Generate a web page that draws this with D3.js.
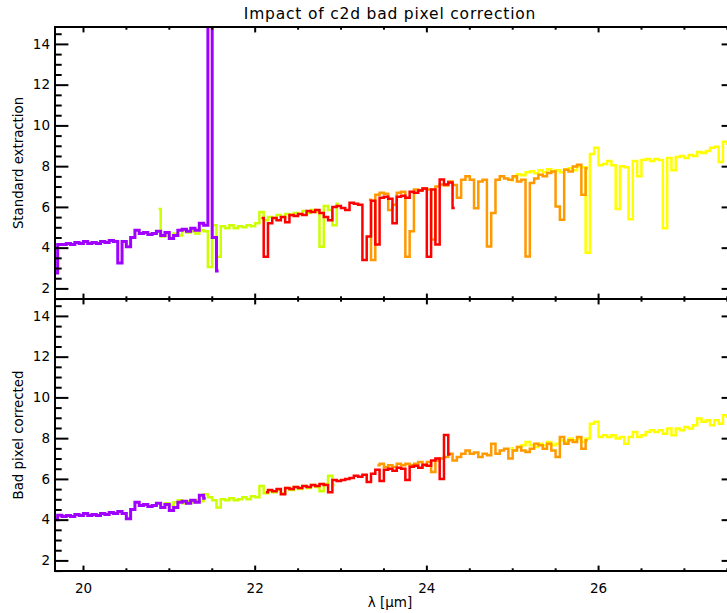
<!DOCTYPE html>
<html>
<head>
<meta charset="utf-8">
<script src="https://cdn.jsdelivr.net/npm/d3@7"></script>
<style>
  body { margin: 0; background: #fff; }
  svg { display: block; font-family: "DejaVu Sans", sans-serif; }
</style>
</head>
<body>
<svg id="chart" width="727" height="613"></svg>
<script>
// wavelength bin width of every order (micron)
var step = 0.05;

// first wavelength of each series, standard extraction (top) / corrected (bottom)
var purpleStart = [19.68, 19.68];
var greenStart  = [20.88, 20.93];
var redStart    = [22.08, 22.13];
var orangeStart = [23.33, 23.43];
var yellowStart = [24.98, 24.98];

// flux values, standard extraction
var purpleStd = [2.75, 4.15, 4.15, 4.2, 4.15, 4.25, 4.2, 4.3, 4.2, 4.25, 4.2, 4.3, 4.25, 4.35, 4.3, 3.25,
  4.3, 4.05, 4.5, 4.85, 4.7, 4.75, 4.65, 4.7, 4.8, 4.6, 4.75, 4.45, 4.6, 4.85, 4.9, 4.8, 4.95, 4.85,
  5.2, 5.1, 16, 4.5, 2.85];
var greenStd = [5.9, 4.55, 4.6, 4.5, 4.7, 4.6, 4.85, 4.75, 4.8, 4.7, 4.85, 4.8, 3.05, 5.1, 3.55, 5.05,
  4.95, 5.1, 4.95, 5.05, 5.0, 5.1, 5.05, 5.2, 5.75, 5.35, 5.5, 5.45, 5.6, 5.5, 5.65, 5.6, 5.7, 5.65,
  5.8, 5.7, 5.85, 5.75, 4.05, 6.05, 5.85, 5.1, 6.15];
var redStd = [5.45, 3.55, 5.2, 5.45, 5.35, 5.5, 5.25, 5.6, 5.55, 5.65, 5.6, 5.8, 5.75, 5.85, 5.7, 5.5,
  5.35, 6.0, 6.05, 5.95, 5.85, 6.2, 6.15, 6.1, 3.4, 4.55, 6.3, 4.15, 6.45, 6.5, 6.4, 5.2, 6.5, 6.55,
  6.45, 6.75, 6.7, 6.8, 6.9, 3.55, 6.85, 4.15, 7.35, 7.1, 7.2, 5.95];
var orangeStd = [6.35, 3.4, 6.6, 6.7, 6.65, 5.85, 6.1, 6.7, 6.75, 3.55, 4.8, 6.85, 6.8, 6.9, 6.85, 4.4,
  7.0, 7.1, 7.05, 7.25, 7.08, 6.45, 7.33, 7.5, 7.33, 5.94, 7.25, 7.33, 4.06, 5.7, 7.33, 7.5, 7.4, 7.33,
  7.5, 7.25, 7.33, 3.57, 7.17, 7.4, 7.58, 7.5, 7.66, 7.74, 6.02, 5.37, 7.82, 7.74, 7.98, 8.07, 6.6, 7.9];
var yellowStd = [7.3, 7.45, 7.6, 7.55, 7.7, 7.75, 7.65, 7.8, 7.7, 7.85, 7.75, 7.8, 7.7, 7.85, 7.9, 7.8,
  8.0, 7.95, 3.75, 8.6, 8.9, 8.05, 8.1, 8.25, 8.05, 5.9, 8.0, 7.95, 5.4, 8.25, 7.5, 8.3, 8.35, 8.25,
  8.35, 8.3, 4.95, 8.4, 7.8, 8.45, 8.5, 8.4, 8.55, 8.5, 8.7, 8.65, 8.75, 8.9, 8.95, 8.2, 9.2, 9.1, 9.15];

// flux values, bad pixel corrected
var purpleCor = [4.0, 4.22, 4.15, 4.2, 4.15, 4.25, 4.2, 4.3, 4.2, 4.25, 4.2, 4.3, 4.25, 4.35, 4.3, 4.4,
  4.3, 4.05, 4.5, 4.85, 4.7, 4.75, 4.65, 4.7, 4.8, 4.6, 4.75, 4.45, 4.6, 4.85, 4.9, 4.8, 4.95, 4.85,
  5.2, 5.05];
var greenCor = [4.65, 4.8, 4.7, 4.85, 4.95, 4.8, 4.9, 4.85, 4.95, 4.9, 5.25, 5.1, 4.95, 4.6, 5.0, 4.95,
  5.05, 4.95, 5.0, 5.1, 5.0, 5.15, 5.1, 5.65, 5.3, 5.4, 5.35, 5.45, 5.3, 5.55, 5.45, 5.6, 5.5, 5.65,
  5.55, 5.7, 5.6, 5.4, 5.75, 6.15, 5.7];
var redCor = [5.35, 5.45, 5.4, 5.5, 5.25, 5.55, 5.5, 5.6, 5.55, 5.65, 5.6, 5.7, 5.65, 5.75, 5.7, 5.35,
  5.95, 5.9, 5.95, 6.0, 6.05, 6.15, 6.1, 6.2, 5.85, 6.25, 6.45, 5.9, 6.45, 6.5, 6.4, 6.55, 6.5, 5.95,
  6.6, 6.65, 6.55, 6.7, 6.65, 6.9, 7.0, 6.0, 8.15, 7.2];
var orangeCor = [6.67, 6.75, 6.59, 6.67, 6.59, 6.75, 6.67, 6.75, 6.67, 6.75, 6.83, 6.67, 6.83, 6.34,
  6.9, 7.0, 7.08, 7.24, 6.9, 7.08, 7.24, 7.4, 7.24, 7.3, 7.08, 7.24, 7.16, 7.73, 7.24, 7.4, 7.48, 7.0,
  7.4, 7.57, 7.4, 7.32, 7.48, 7.73, 7.65, 7.48, 7.73, 7.4, 7.08, 8.06, 7.73, 7.9, 7.81, 8.06, 7.48, 7.9];
var yellowCor = [7.5, 7.4, 7.56, 7.65, 7.81, 7.65, 7.56, 7.73, 7.65, 7.81, 7.65, 7.73, 7.9, 7.81, 7.98,
  7.9, 7.98, 7.81, 7.98, 8.71, 8.8, 8.06, 8.14, 8.06, 8.14, 7.98, 8.06, 7.73, 8.06, 8.3, 8.06, 8.14,
  8.3, 8.39, 8.3, 8.39, 8.22, 8.47, 8.14, 8.47, 8.39, 8.55, 8.47, 8.63, 8.96, 8.8, 8.88, 8.63, 8.88,
  8.71, 9.12, 9.05];

var xTickLabels = [20, 22, 24, 26];
var yTickLabels = [2, 4, 6, 8, 10, 12, 14];
var titleText = "Impact of c2d bad pixel correction";
var panelLabels = ["Standard extraction", "Bad pixel corrected"];

// drawing order: later series lie on top
var colors = { yellow: "#ffff00", orange: "#ff9900", green: "#ccff00", red: "#ff0000", purple: "#a000ff" };
var panels = [
  [["yellow", yellowStart[0], yellowStd], ["orange", orangeStart[0], orangeStd],
   ["green", greenStart[0], greenStd], ["red", redStart[0], redStd], ["purple", purpleStart[0], purpleStd]],
  [["yellow", yellowStart[1], yellowCor], ["orange", orangeStart[1], orangeCor],
   ["green", greenStart[1], greenCor], ["red", redStart[1], redCor], ["purple", purpleStart[1], purpleCor]]
];

var svg = d3.select("#chart");
var left = 55, right = 735, panelH = 272, tops = [27, 299];

var x = d3.scaleLinear().domain([19.674, 27.595]).range([left, right]);
var xMinor = d3.range(19.5, 27.6, 0.5).filter(function(v) { return v >= 19.674 && xTickLabels.indexOf(v) < 0 && v % 2 !== 0; });
var xMajor = d3.range(20, 27.6, 2);
var yMinor = d3.range(1.5, 14.8, 0.5).filter(function(v) { return v % 2 !== 0; });

svg.append("text")
  .attr("x", 390).attr("y", 19)
  .attr("text-anchor", "middle")
  .style("font-size", "15.5px").style("letter-spacing", "0.8px")
  .text(titleText);

function styleAxis(g) {
  g.select(".domain").remove();
  g.selectAll(".tick line").attr("stroke", "#000").attr("stroke-width", 2);
  g.selectAll(".tick text").attr("fill", "#000").style("font-size", "13.5px")
    .style("font-family", "'DejaVu Sans', sans-serif");
}

panels.forEach(function(series, p) {
  var top = tops[p];
  var y = d3.scaleLinear().domain([1.48, 14.83]).range([top + panelH, top]);

  svg.append("clipPath").attr("id", "clip" + p)
    .append("rect").attr("x", left).attr("y", top).attr("width", right - left).attr("height", panelH);

  var line = d3.line()
    .curve(d3.curveStep)
    .x(function(d) { return x(d[0]); })
    .y(function(d) { return y(d[1]); });

  var plot = svg.append("g").attr("clip-path", "url(#clip" + p + ")");
  series.forEach(function(s) {
    var pts = s[2].map(function(v, i) { return [s[1] + i * step, v]; });
    plot.append("path")
      .datum(pts)
      .attr("fill", "none")
      .attr("stroke", colors[s[0]])
      .attr("stroke-width", s[0] === "purple" ? 3 : 2.5)
      .attr("d", line);
  });

  // y axes, ticks pointing inward
  svg.append("g").attr("transform", "translate(" + left + ",0)")
    .call(d3.axisLeft(y).tickValues(yTickLabels).tickSize(-13.4).tickPadding(5).tickFormat(d3.format("d")))
    .call(styleAxis);
  svg.append("g").attr("transform", "translate(" + left + ",0)")
    .call(d3.axisLeft(y).tickValues(yMinor).tickSize(-6.7).tickFormat(""))
    .call(styleAxis);
  svg.append("g").attr("transform", "translate(" + right + ",0)")
    .call(d3.axisRight(y).tickValues(yTickLabels).tickSize(-13.4).tickFormat(""))
    .call(styleAxis);
  svg.append("g").attr("transform", "translate(" + right + ",0)")
    .call(d3.axisRight(y).tickValues(yMinor).tickSize(-6.7).tickFormat(""))
    .call(styleAxis);

  // x axes
  svg.append("g").attr("transform", "translate(0," + top + ")")
    .call(d3.axisTop(x).tickValues(xMajor).tickSize(-5.4).tickFormat(""))
    .call(styleAxis);
  svg.append("g").attr("transform", "translate(0," + top + ")")
    .call(d3.axisTop(x).tickValues(xMinor).tickSize(-2.7).tickFormat(""))
    .call(styleAxis);
  svg.append("g").attr("transform", "translate(0," + (top + panelH) + ")")
    .call(d3.axisBottom(x).tickValues(xMajor).tickSize(-5.4).tickPadding(12)
      .tickFormat(p === 1 ? d3.format("d") : ""))
    .call(styleAxis);
  svg.append("g").attr("transform", "translate(0," + (top + panelH) + ")")
    .call(d3.axisBottom(x).tickValues(xMinor).tickSize(-2.7).tickFormat(""))
    .call(styleAxis);

  svg.append("rect")
    .attr("x", left).attr("y", top).attr("width", right - left).attr("height", panelH)
    .attr("fill", "none").attr("stroke", "#000").attr("stroke-width", 2);

  svg.append("text")
    .attr("transform", "translate(22.5," + (top + panelH / 2) + ") rotate(-90)")
    .attr("text-anchor", "middle")
    .style("font-size", "13.3px")
    .text(panelLabels[p]);
});

svg.append("text")
  .attr("x", 390).attr("y", 607)
  .attr("text-anchor", "middle")
  .style("font-size", "13.5px")
  .text("λ [μm]");
</script>
</body>
</html>
